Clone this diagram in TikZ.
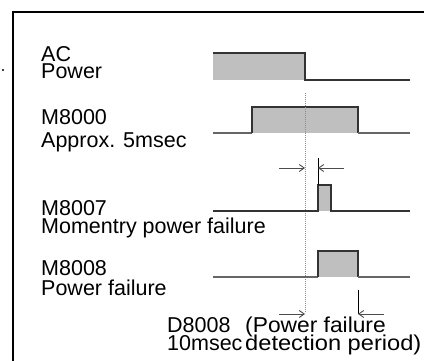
\documentclass[tikz,border=0pt]{standalone}
\usepackage{fontspec}
\setmainfont{Liberation Sans}
\usetikzlibrary{arrows.meta}

\begin{document}
\begin{tikzpicture}[x=1pt, y=-1pt,
  sig/.style={line width=1.3pt, black!80},
  lowsig/.style={line width=1.3pt, black!60},
  lbl/.style={anchor=base west, inner sep=0pt, font=\fontsize{21.5}{21.5}\selectfont},
  dim/.style={-{Straight Barb[length=5pt, width=7pt]}, line width=0.9pt, black!70}]
  \useasboundingbox (0,0) rectangle (424,361);

  % Frame
  \draw[line width=2pt] (13,361) -- (13,12) -- (424,12);
  \fill (3,70) circle (1.2);

  % AC power
  \fill[black!25] (213,53) rectangle (305,80);
  \draw[sig] (213,53) -- (305,53) -- (305,80) -- (410,80);
  \node[lbl] (acA) at (41,62) {AC};
  \node[lbl] (acB) at (41,79) {Power};

  % M8000
  \fill[black!25] (252,107) rectangle (358,133);
  \draw[lowsig] (213,133) -- (252,133);
  \draw[sig] (252,133) -- (252,107) -- (358,107) -- (358,133);
  \draw[lowsig] (358,133) -- (410,133);
  \node[lbl] (runA) at (41,125) {M8000};
  \node[lbl] (runB) at (41,148) {Approx. 5msec};

  % Power off line
  \draw[line width=1pt, black!45, dash pattern=on 1pt off 1pt] (305,93) -- (305,313);

  % M8007
  \fill[black!25] (318,185) rectangle (331,211);
  \draw[sig] (213,211) -- (318,211) -- (318,185) -- (331,185) -- (331,211) -- (410,211);
  \draw[line width=0.9pt] (318,158) -- (318,185);
  \node[lbl] (momA) at (41,216) {M8007};
  \node[lbl] (momB) at (41,234) {Momentry power failure};

  % M8008
  \fill[black!25] (318,251) rectangle (358,277);
  \draw[lowsig] (213,277) -- (318,277);
  \draw[sig] (318,277) -- (318,251) -- (358,251) -- (358,277);
  \draw[lowsig] (358,277) -- (410,277);
  \draw[line width=0.9pt] (358,290) -- (358,314);
  \node[lbl] (pfA) at (41,276) {M8008};
  \node[lbl] (pfB) at (41,295) {Power failure};

  % Period arrows
  \coordinate (mA0) at (279,168);
  \coordinate (mA1) at (305,168);
  \coordinate (mB0) at (344,168);
  \coordinate (mB1) at (318,168);
  \coordinate (dA0) at (279,314);
  \coordinate (dA1) at (305,314);
  \coordinate (dB0) at (384,314);
  \coordinate (dB1) at (358,314);
  \draw[dim] (mA0) -- (mA1);
  \draw[dim] (mB0) -- (mB1);
  \draw[dim] (dA0) -- (dA1);
  \draw[dim] (dB0) -- (dB1);

  % D8008
  \node[lbl] (detA) at (167,333) {D8008};
  \node[lbl, transform shape, xscale=1.06] (detB) at (245,333) {(Power failure};
  \node[lbl] (detC) at (167,350) {10msec};
  \node[lbl, transform shape, xscale=1.10] (detD) at (245,350) {detection period)};
\end{tikzpicture}
\end{document}
